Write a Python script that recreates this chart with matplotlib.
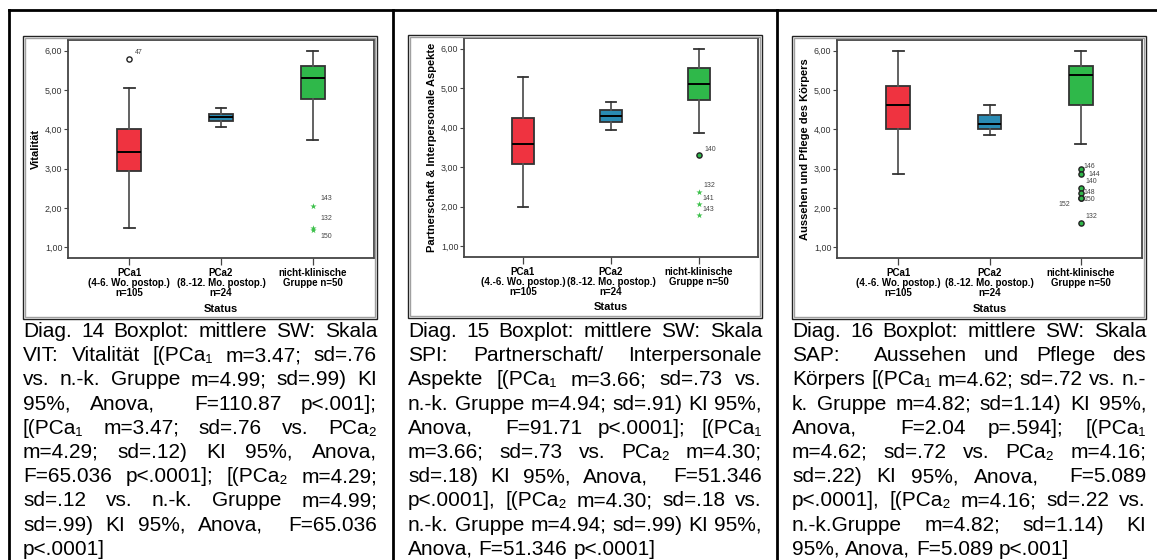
import matplotlib.pyplot as plt
from matplotlib.patches import Rectangle
from matplotlib.lines import Line2D

plt.rcParams['font.family'] = ['Liberation Sans', 'DejaVu Sans']

W, H = 1157, 560

# group labels (x axis)
groups_1 = ['PCa1\n(4-6. Wo. postop.)\nn=105', 'PCa2\n(8.-12. Mo. postop.)\nn=24',
            'nicht-klinische\nGruppe n=50']
groups_23 = ['PCa1\n(4.-6. Wo. postop.)\nn=105', 'PCa2\n(8.-12. Mo. postop.)\nn=24',
             'nicht-klinische\nGruppe n=50']
yticks = [1, 2, 3, 4, 5, 6]
ytick_labels = ['1,00', '2,00', '3,00', '4,00', '5,00', '6,00']

# box stats: whisker low, Q1, median, Q3, whisker high
vit_pca1 = [1.48, 2.94, 3.43, 4.00, 5.04]
vit_pca2 = [4.06, 4.22, 4.31, 4.38, 4.55]
vit_nk = [3.72, 4.77, 5.30, 5.60, 6.00]
vit_out_x, vit_out_y, vit_out_id = [1], [5.78], ['47']
vit_ext_x, vit_ext_y, vit_ext_id = [3, 3, 3], [2.06, 1.50, 1.44], ['143', '132', '150']

spi_pca1 = [2.00, 3.08, 3.58, 4.24, 5.29]
spi_pca2 = [3.94, 4.14, 4.30, 4.44, 4.65]
spi_nk = [3.87, 4.71, 5.11, 5.50, 6.00]
spi_out_x, spi_out_y, spi_out_id = [3], [3.30], ['140']
spi_ext_x, spi_ext_y, spi_ext_id = [3, 3, 3], [2.37, 2.08, 1.79], ['132', '141', '143']

sap_pca1 = [2.87, 4.00, 4.63, 5.11, 6.00]
sap_pca2 = [3.86, 4.00, 4.13, 4.37, 4.63]
sap_nk = [3.63, 4.63, 5.37, 5.62, 6.00]
sap_out_x = [3, 3, 3, 3, 3, 3, 3]
sap_out_y = [3.00, 2.87, 2.50, 2.38, 2.25, 2.25, 1.63]
sap_out_id = ['146', '144', '140', '148', '150', '152', '132']
sap_ext_x, sap_ext_y, sap_ext_id = [], [], []

captions_1 = [
    'Diag. 14 Boxplot: mittlere SW: Skala',
    'VIT: Vitalität [(PCa\u2081 m=3.47; sd=.76',
    'vs. n.-k. Gruppe m=4.99; sd=.99) KI',
    '95%, Anova,  F=110.87 p<.001];',
    '[(PCa\u2081 m=3.47; sd=.76 vs. PCa\u2082',
    'm=4.29; sd=.12) KI 95%, Anova,',
    'F=65.036 p<.0001]; [(PCa\u2082 m=4.29;',
    'sd=.12 vs. n.-k. Gruppe m=4.99;',
    'sd=.99) KI 95%, Anova,  F=65.036',
    'p<.0001]',
]
captions_2 = [
    'Diag. 15 Boxplot: mittlere SW: Skala',
    'SPI: Partnerschaft/ Interpersonale',
    'Aspekte [(PCa\u2081 m=3.66; sd=.73 vs.',
    'n.-k. Gruppe m=4.94; sd=.91) KI 95%,',
    'Anova,  F=91.71 p<.0001]; [(PCa\u2081',
    'm=3.66; sd=.73 vs. PCa\u2082 m=4.30;',
    'sd=.18) KI 95%, Anova,  F=51.346',
    'p<.0001], [(PCa\u2082 m=4.30; sd=.18 vs.',
    'n.-k. Gruppe m=4.94; sd=.99) KI 95%,',
    'Anova, F=51.346 p<.0001]',
]
captions_3 = [
    'Diag. 16 Boxplot: mittlere SW: Skala',
    'SAP:  Aussehen und Pflege des',
    'Körpers [(PCa\u2081 m=4.62; sd=.72 vs. n.-',
    'k. Gruppe m=4.82; sd=1.14) KI 95%,',
    'Anova,  F=2.04 p=.594]; [(PCa\u2081',
    'm=4.62; sd=.72 vs. PCa\u2082 m=4.16;',
    'sd=.22) KI 95%, Anova,  F=5.089',
    'p<.0001], [(PCa\u2082 m=4.16; sd=.22 vs.',
    'n.-k.Gruppe m=4.82; sd=1.14) KI',
    '95%, Anova, F=5.089 p<.001]',
]

box_colors = ['#ef3340', '#2a8bb3', '#2fb84a']
CAP_FS = 15

fig = plt.figure(figsize=(W / 100, H / 100), dpi=100)


def px(x0, y0, x1, y1):
    return [x0 / W, 1 - y1 / H, (x1 - x0) / W, (y1 - y0) / H]


def frame(x0, y0, x1, y1):
    fig.patches.append(Rectangle((x0 / W, 1 - y1 / H), (x1 - x0) / W, (y1 - y0) / H,
                                 transform=fig.transFigure, fill=False,
                                 edgecolor='#222222', lw=1.0))
    fig.patches.append(Rectangle(((x0 + 2) / W, 1 - (y1 - 2) / H), (x1 - x0 - 4) / W,
                                 (y1 - y0 - 4) / H, transform=fig.transFigure,
                                 fill=False, edgecolor='#a0a0a0', lw=1.0))


def panel(rect, stats, groups, ylabel, out, ext, out_fill, offsets):
    ax = fig.add_axes(rect)
    bx = []
    for s in stats:
        bx.append(dict(whislo=s[0], q1=s[1], med=s[2], q3=s[3], whishi=s[4], fliers=[]))
    art = ax.bxp(bx, positions=[1, 2, 3], widths=0.26, capwidths=0.12, patch_artist=True,
                 boxprops=dict(edgecolor='#333333', lw=1.3),
                 whiskerprops=dict(color='#555555', lw=1.3),
                 capprops=dict(color='#333333', lw=1.3),
                 medianprops=dict(color='black', lw=1.4))
    for b, c in zip(art['boxes'], box_colors):
        b.set_facecolor(c)
    ox, oy, oid = out
    ex, ey, eid = ext
    ax.scatter(ox, oy, s=14, marker='o', facecolor=out_fill, edgecolor='#222222',
               lw=1.0, zorder=4)
    ax.scatter(ex, ey, s=22, marker='*', color='#3cc04a', lw=0, zorder=4)
    for (x, y, t), (dx, dy) in zip(list(zip(ox, oy, oid)) + list(zip(ex, ey, eid)), offsets):
        ax.annotate(t, (x, y), xytext=(dx, dy), textcoords='offset pixels',
                    fontsize=5, color='#444444', va='center', ha='left')
    ax.set_xlim(0.33, 3.67)
    ax.set_ylim(0.73, 6.27)
    ax.set_yticks(yticks)
    ax.set_yticklabels(ytick_labels, fontsize=6.4, color='#333333')
    ax.set_xticks([1, 2, 3])
    ax.set_xticklabels(groups, fontsize=7.0, fontweight='bold', linespacing=1.0)
    ax.tick_params(axis='y', length=3, width=0.8, color='#444444', pad=1)
    ax.tick_params(axis='x', length=5, width=0.9, color='#444444', pad=2)
    ax.set_ylabel(ylabel, fontsize=8, fontweight='bold', labelpad=3)
    for sp in ax.spines.values():
        sp.set_color('#444444')
        sp.set_linewidth(1.3)
    return ax


ax1 = panel(px(68, 40, 374, 258), [vit_pca1, vit_pca2, vit_nk], groups_1, 'Vitalität',
            (vit_out_x, vit_out_y, vit_out_id), (vit_ext_x, vit_ext_y, vit_ext_id), 'white',
            [(5, 7), (8, 7), (8, 9), (8, -6)])
ax2 = panel(px(464, 38, 758, 257), [spi_pca1, spi_pca2, spi_nk], groups_23,
            'Partnerschaft & Interpersonale Aspekte',
            (spi_out_x, spi_out_y, spi_out_id), (spi_ext_x, spi_ext_y, spi_ext_id), '#2fb84a',
            [(5, 6), (4, 7), (3, 5), (3, 6)])
ax3 = panel(px(837, 40, 1142, 258), [sap_pca1, sap_pca2, sap_nk], groups_23,
            'Aussehen und Pflege des Körpers',
            (sap_out_x, sap_out_y, sap_out_id), (sap_ext_x, sap_ext_y, sap_ext_id), '#2fb84a',
            [(3, 2), (8, -1), (5, 7), (3, 1), (3, -1), (-22, -6), (5, 6)])

for ax, y in [(ax1, 309), (ax2, 307), (ax3, 309)]:
    b = ax.get_position()
    fig.text((b.x0 + b.x1) / 2, 1 - y / H, 'Status', fontsize=8, fontweight='bold',
             ha='center', va='center')

frame(23, 36, 377, 319)
frame(408, 35, 762, 318)
frame(792, 36, 1146, 319)

# table borders
fig.lines.append(Line2D([9 / W, 1], [1 - 10 / H, 1 - 10 / H], transform=fig.transFigure,
                        color='black', lw=2.0))
for x in [9, 393, 777]:
    fig.lines.append(Line2D([x / W, x / W], [0, 1 - 10 / H], transform=fig.transFigure,
                            color='black', lw=2.0))

# justified caption text
renderer = fig.canvas.get_renderer()
probe_a = fig.text(0, 0, 'a a', fontsize=CAP_FS)
probe_b = fig.text(0, 0, 'aa', fontsize=CAP_FS)
space_w = probe_a.get_window_extent(renderer).width - probe_b.get_window_extent(renderer).width
probe_a.remove()
probe_b.remove()


def justify(lines, x0, x1, y0, pitch):
    for i, line in enumerate(lines):
        y = 1 - (y0 + i * pitch) / H
        words = line.split(' ')
        arts = [fig.text(0, y, w, fontsize=CAP_FS, va='baseline', color='black')
                for w in words]
        widths = [a.get_window_extent(renderer).width if w else 0 for a, w in zip(arts, words)]
        if i == len(lines) - 1:
            gap = space_w
        else:
            gap = (x1 - x0 - sum(widths)) / (len(words) - 1)
        x = x0
        for a, w in zip(arts, widths):
            a.set_x(x / W)
            x += w + gap


justify(captions_1, 23, 377, 337, 24.2)
justify(captions_2, 408, 762, 337, 24.2)
justify(captions_3, 792, 1146, 337, 24.2)

fig.savefig('out.png', dpi=100)
